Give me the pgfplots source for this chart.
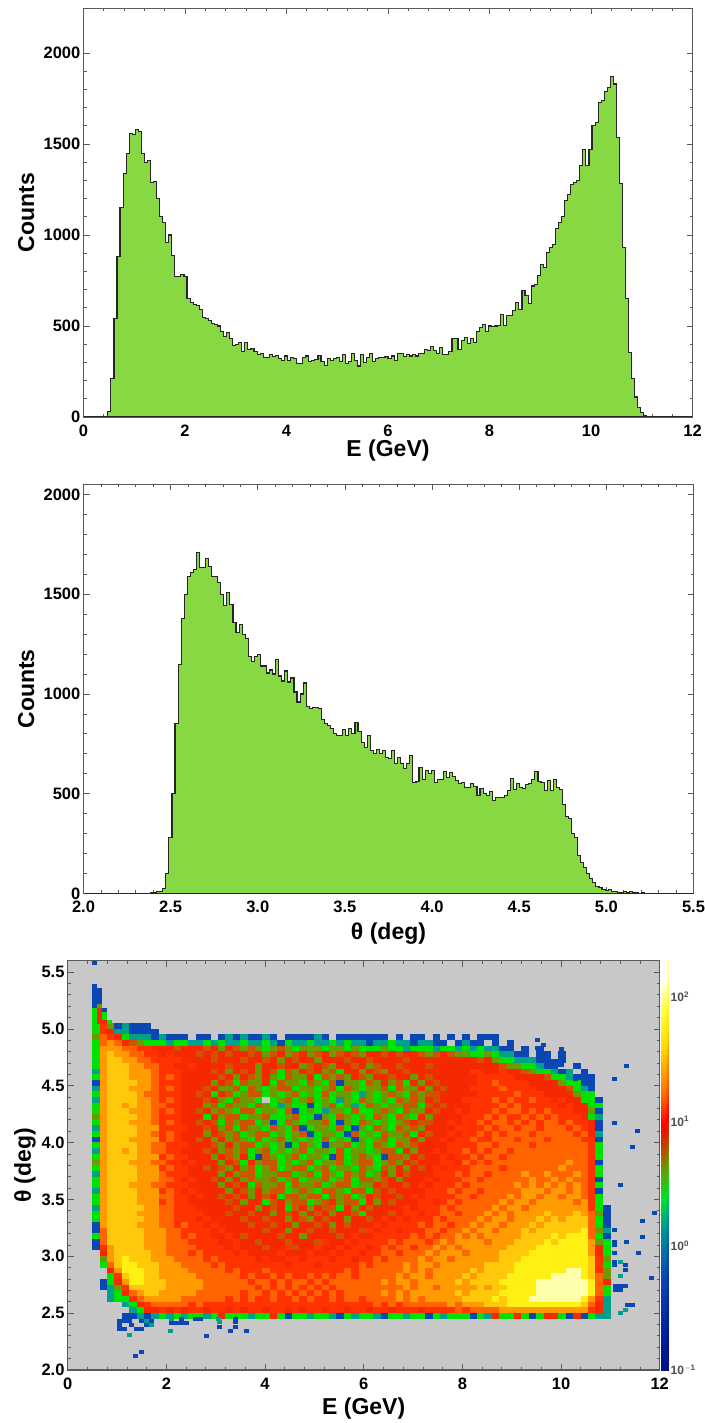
\documentclass[border=0pt]{standalone}
\usepackage{fontspec}
\setmainfont{Liberation Sans}
\usepackage{pgfplots}
\usepackage{pgfplotstable}
\pgfplotsset{compat=1.18}
\definecolor{histgreen}{RGB}{136,216,68}
\definecolor{framegray}{RGB}{90,90,90}
\newcommand{\tickfont}{\fontsize{16.5}{17}\selectfont\bfseries}
\newcommand{\labfont}{\fontsize{23}{24}\selectfont\bfseries}
\pgfdeclareplotmark{bigcell}{\pgfpathrectangle{\pgfpoint{-3.85pt}{-3pt}}{\pgfpoint{7.7pt}{6pt}}\pgfusepathqfill}
\pgfdeclareplotmark{smallcell}{\pgfpathrectangle{\pgfpoint{-2.5pt}{-2pt}}{\pgfpoint{5pt}{4pt}}\pgfusepathqfill}
\pgfplotsset{
  hepaxis/.style={
    scale only axis, anchor=south west,
    axis line style={draw=framegray,line width=1.2pt},
    tick style={color=framegray,line width=0.8pt},
    tick align=inside, major tick length=6pt, minor tick length=3pt,
    tick label style={font=\tickfont,inner sep=1pt},
    label style={font=\labfont},
    /pgf/number format/assume math mode=true,
    /pgf/number format/1000 sep={},
    xticklabel style={yshift=-6.5pt},
    yticklabel style={xshift=-2pt},
  },
  colormap={heplevels}{
    rgb255=(200,200,200) rgb255=(10,70,180) rgb255=(0,160,140) rgb255=(0,226,0)
    rgb255=(110,154,0) rgb255=(205,85,0) rgb255=(245,40,0) rgb255=(255,50,0)
    rgb255=(255,100,0) rgb255=(255,155,0) rgb255=(255,200,10) rgb255=(255,240,20) rgb255=(255,255,170)
  },
  colormap={hepbar}{
    rgb255=(0,0,100) rgb255=(0,30,160) rgb255=(10,70,180) rgb255=(0,150,150)
    rgb255=(0,226,40) rgb255=(100,160,0) rgb255=(200,60,0) rgb255=(255,0,0)
    rgb255=(255,110,0) rgb255=(255,220,0) rgb255=(255,255,60) rgb255=(255,255,255)
  },
}
\pgfplotstableread[header=false]{
3 7 4 1 2 1 1 1 0 0  0 0 0 0 0 0 0 0 0 0  0 0 0 0 0 0 0 0 0 0  0 0 0 0 0 0 0 0 0 0  0 0 0 0 0 0 0 0 0 0  0 0 0 0 0 0 0 0 0 0  0 0 0 0 0 0 0 0 0 0
3 7 6 2 2 1 1 1 1 0  0 0 0 0 0 0 0 0 0 0  0 0 0 0 0 0 0 0 0 0  0 0 0 0 0 0 0 0 0 0  0 0 0 0 0 0 0 0 0 0  0 0 0 0 0 0 0 0 0 0  0 0 0 0 0 0 0 0 0 0
4 8 7 6 3 2 2 2 1 2  1 1 1 0 1 1 0 1 2 1  2 1 1 2 1 0 1 1 1 1  2 1 0 1 1 1 1 1 1 1  0 1 0 1 1 0 1 0 1 0  1 0 1 1 1 0 0 0 0 0  0 0 0 0 0 0 0 0 0 0
3 8 9 8 6 5 4 3 3 3  2 3 3 2 2 3 2 3 2 2  3 2 2 3 2 1 3 2 2 3  2 2 3 2 3 2 2 1 2 2  3 2 2 1 2 2 1 1 0 1  2 1 1 0 1 0 1 0 0 0  0 0 0 0 0 0 0 0 0 0
3 9 9 9 8 8 7 7 6 6  6 5 6 6 6 5 6 4 6 5  4 5 4 3 4 5 4 3 4 4  4 3 4 4 3 4 3 3 3 4  3 3 2 3 3 3 2 3 3 2  3 2 3 2 2 1 1 0 1 0  1 0 0 0 0 0 0 0 0 0
3 9 10 9 9 8 8 7 7 6  7 6 6 6 5 6 5 6 5 6  6 5 6 4 5 6 4 5 6 4  5 6 4 5 6 5 4 6 6 5  6 5 6 6 5 4 5 6 5 4  4 3 3 4 3 2 2 1 1 0  1 1 0 1 0 0 0 0 0 0
3 9 10 10 9 9 8 8 7 7  7 7 6 6 6 6 5 6 6 6  5 6 6 5 6 4 6 5 6 6  4 6 6 6 5 6 6 5 6 6  6 6 5 6 6 6 6 6 6 6  6 6 5 6 4 3 3 2 2 2  1 1 0 1 0 0 0 0 0 0
3 9 10 10 10 9 9 8 8 7  7 6 6 7 6 6 6 6 5 6  6 6 4 6 6 5 6 6 4 5  6 5 4 6 6 5 6 4 5 6  6 5 6 6 6 5 6 6 6 6  6 6 6 6 6 5 4 4 3 3  2 1 1 0 0 1 0 0 0 0
2 9 10 10 10 9 9 9 8 7  7 7 6 6 6 6 5 6 4 6  5 6 4 6 5 3 5 4 6 5  6 4 5 3 6 6 4 6 5 4  6 6 5 6 6 6 6 6 6 6  6 7 7 6 6 7 6 6 5 4  3 3 2 1 2 0 1 0 0 0
3 9 10 10 10 9 9 9 8 7  8 7 6 6 6 6 6 5 6 4  6 5 4 6 4 3 5 4 4 6  3 5 4 5 4 6 5 4 6 6  5 6 6 4 6 5 6 6 6 6  6 6 7 7 7 7 7 6 6 6  6 5 3 3 2 1 1 1 0 0
1 9 10 10 10 10 9 9 8 7  7 7 6 6 6 6 4 6 5 3  5 4 4 6 3 5 4 4 3 5  4 3 5 1 4 4 3 5 4 6  4 5 3 6 4 6 5 6 6 6  6 6 7 7 8 7 7 7 7 6  6 6 6 4 3 3 1 1 0 0
2 9 10 10 10 9 9 9 8 7  8 7 6 6 6 5 6 4 4 5  3 5 4 3 4 5 5 3 4 4  3 4 5 3 5 4 3 4 4 5  3 5 4 4 6 4 6 5 6 6  6 7 7 7 7 8 7 7 7 7  6 6 6 6 5 3 2 1 0 0
3 9 10 10 10 10 9 8 8 7  7 7 6 6 5 6 3 6 5 3  4 5 5 3 4 3 4 5 3 4  3 5 3 4 4 3 2 4 3 4  5 4 3 5 4 5 5 6 6 6  6 6 7 7 7 7 7 8 7 7  7 6 6 6 6 4 3 3 0 0
2 9 10 10 10 10 9 9 8 7  8 7 6 6 6 5 6 4 3 5  4 4 3 0 3 4 5 3 4 5  3 4 3 2 4 3 5 4 3 4  3 5 4 5 4 6 5 6 6 6  7 7 7 7 8 7 8 7 7 8  7 7 6 7 6 6 3 3 1 0
3 9 10 10 9 10 9 9 8 8  7 7 6 6 6 4 5 3 5 4  4 3 5 4 3 2 4 3 3 1  3 4 5 3 4 2 3 5 4 3  4 4 5 5 3 5 6 5 6 6  6 7 7 7 7 8 7 8 7 7  7 7 7 6 7 6 6 3 3 0
3 9 10 10 10 9 9 9 8 7  8 7 6 6 5 6 4 5 4 3  5 5 3 4 4 3 5 1 3 4  3 2 4 4 3 5 3 3 4 5  4 3 5 4 4 6 5 6 6 7  6 7 7 7 8 7 8 8 7 8  7 8 7 7 7 6 6 4 1 0
4 9 10 10 10 10 9 9 8 7  7 7 6 6 6 3 6 4 5 5  3 4 4 5 3 3 4 5 3 3  1 4 3 5 4 3 4 3 5 4  3 5 4 3 6 4 6 6 6 6  7 7 7 8 7 8 7 7 8 7  8 7 8 7 7 7 6 3 2 0
3 9 10 10 10 9 9 9 8 7  8 7 6 6 5 6 5 3 5 4  5 5 3 4 1 3 5 4 3 4  4 5 3 1 4 3 5 4 3 4  3 4 5 6 5 5 6 6 7 6  7 7 8 7 8 8 7 8 7 8  7 8 8 7 8 7 7 6 1 0
2 9 10 10 10 10 9 9 9 7  7 7 7 6 6 5 6 4 5 3  5 4 4 3 5 4 3 5 1 3  4 4 3 5 3 1 4 3 5 4  3 5 4 5 4 6 6 6 6 7  7 7 7 8 7 8 8 7 8 8  7 8 8 8 7 8 7 6 1 0
3 9 10 10 10 10 9 9 8 7  8 7 6 6 6 4 6 5 4 5  3 4 5 5 3 4 3 4 5 1  3 4 4 3 1 5 3 4 3 5  4 4 5 3 6 5 6 6 7 6  7 7 8 7 8 7 8 8 8 7  8 8 8 8 8 7 8 6 2 0
1 9 10 10 10 9 9 9 9 7  8 7 6 6 5 6 4 6 4 5  4 3 5 3 4 5 3 4 3 4  3 5 3 4 3 1 4 3 4 5  3 4 4 6 4 6 6 7 6 7  7 8 7 7 8 8 8 7 8 8  8 7 8 8 8 8 7 7 1 0
3 9 10 10 10 10 9 9 8 8  7 7 7 6 6 6 5 4 6 4  5 5 3 4 3 4 1 3 5 4  3 1 4 4 5 3 4 3 5 4  3 5 4 5 6 6 6 6 7 7  7 7 8 8 7 8 8 8 8 7  8 8 8 8 8 8 8 7 3 0
2 9 10 10 9 10 9 9 8 8  7 7 6 6 6 5 6 4 5 4  5 3 4 5 3 4 3 4 5 3  4 4 3 5 3 4 4 3 4 5  5 3 6 4 6 6 7 6 7 7  8 7 8 7 8 8 7 8 8 8  8 8 8 8 8 8 8 7 3 0
3 9 10 10 10 10 9 9 9 7  8 7 7 6 6 6 4 6 5 4  6 3 1 5 4 3 4 5 3 4  4 3 1 5 3 4 5 4 3 1  5 5 4 6 5 6 6 7 6 7  7 8 7 8 8 7 8 8 8 8  8 8 8 8 8 8 8 7 3 0
4 9 10 10 10 9 9 9 8 8  7 7 6 7 6 6 6 4 6 5  3 6 4 5 5 3 4 3 4 5  3 4 4 5 3 4 5 5 3 4  5 4 6 5 6 6 6 7 7 6  8 7 8 7 8 8 8 8 8 8  8 8 8 8 9 8 8 7 1 0
3 9 10 10 10 10 9 9 9 7  8 7 7 6 6 5 6 5 4 6  4 5 3 4 5 3 4 5 5 3  4 5 3 4 4 3 5 4 3 5  4 6 4 6 5 6 7 6 7 7  7 8 8 8 8 7 8 8 8 8  8 8 8 9 8 8 8 7 3 0
2 9 10 10 10 10 9 9 9 8  7 7 7 6 6 6 6 4 6 4  5 5 3 4 4 5 5 3 4 5  3 5 4 3 5 4 5 3 4 6  4 6 5 6 6 6 7 7 7 8  7 8 8 7 8 8 8 8 9 8  8 9 8 8 8 9 8 7 3 0
3 9 10 10 10 10 9 9 9 8  8 7 6 7 6 6 5 6 4 6  4 5 4 4 5 3 4 5 3 4  4 5 3 4 5 3 5 5 4 5  6 4 6 6 6 7 6 7 7 7  8 8 7 8 8 8 8 8 8 9  8 8 9 8 9 8 8 7 1 0
3 9 10 10 10 9 9 9 8 8  7 7 7 6 6 6 6 4 6 5  6 3 5 4 4 5 3 5 4 4  5 3 4 5 5 3 4 4 6 5  6 6 5 6 7 6 7 7 7 8  7 8 8 8 8 8 8 9 8 9  8 9 8 9 8 9 8 7 3 0
2 9 10 10 10 10 9 9 9 7  8 7 6 7 6 6 6 6 4 6  5 4 6 4 5 5 3 4 5 4  3 5 5 4 3 5 5 3 5 6  5 6 6 6 6 7 7 7 8 7  8 8 7 8 8 8 8 8 9 9  9 8 9 9 8 9 8 7 1 0
3 9 10 10 10 10 9 9 9 8  8 7 7 6 7 6 6 5 6 5  6 4 6 5 6 3 5 5 4 5  5 3 5 4 5 3 4 6 5 6  6 5 6 7 6 7 7 7 7 8  8 7 8 8 8 8 9 8 9 9  8 9 9 8 9 9 8 7 3 0
3 9 10 10 10 10 9 9 9 7  8 7 7 6 6 6 6 6 5 6  4 6 6 3 5 6 4 5 5 3  4 5 6 4 5 5 3 6 4 6  5 6 6 6 7 7 6 7 8 7  8 8 8 8 8 9 8 9 9 8  9 9 9 9 9 8 9 7 3 0
2 9 10 10 10 10 10 9 9 8  8 7 7 7 6 6 6 6 6 5  6 6 4 6 5 6 3 5 6 4  6 5 5 3 6 4 6 5 6 6  6 6 7 6 7 7 7 8 7 8  8 8 8 8 9 8 9 9 8 9  9 9 9 9 9 9 9 7 3 1
3 9 10 10 10 10 9 9 9 8  8 7 7 7 7 6 6 6 5 6  6 5 6 6 4 6 5 6 4 6  5 6 4 6 6 5 3 6 6 6  5 6 7 7 6 7 7 8 8 7  8 8 8 9 8 9 8 9 9 9  9 10 9 9 9 10 9 8 4 1
3 9 10 10 10 10 10 9 9 8  8 7 7 7 6 7 6 6 6 6  5 6 6 5 6 6 4 6 5 4  6 5 6 6 4 6 6 5 6 7  6 7 6 7 7 7 8 7 8 8  8 8 9 8 9 9 8 9 9 9  10 9 10 9 10 10 10 8 3 1
1 9 10 10 10 10 9 9 9 8  8 7 8 7 7 6 7 6 6 6  6 5 6 6 5 6 6 4 6 6  5 6 4 6 5 6 6 6 7 6  7 7 7 7 8 7 8 8 7 8  8 9 8 9 9 8 9 9 9 10  9 10 10 10 10 10 10 8 3 1
1 8 10 10 10 10 10 9 9 9  8 8 7 7 7 7 6 7 6 6  6 6 6 5 6 6 4 6 6 5  6 6 5 6 6 6 5 7 6 7  7 6 7 7 7 8 8 7 8 8  9 8 9 9 8 9 9 9 10 9  10 10 10 10 10 10 11 8 4 2
3 8 10 10 10 10 10 9 9 9  8 8 7 8 7 7 6 6 7 6  5 6 6 6 6 5 6 6 4 6  6 6 6 5 6 7 6 6 7 7  7 7 7 8 7 8 7 8 8 9  8 9 8 9 9 9 9 9 10 10  10 10 11 10 11 11 11 8 3 1
1 8 10 10 10 10 10 9 9 9  8 8 8 7 7 7 7 6 6 7  6 6 5 6 6 6 5 6 6 6  5 7 6 6 7 6 7 7 7 7  8 7 8 8 8 7 8 9 8 9  9 9 9 8 9 9 9 10 10 10  10 11 10 11 11 11 11 9 4 3
1 7 9 10 10 10 10 9 9 9  8 8 8 8 7 7 7 7 6 7  6 6 6 5 6 6 7 5 6 6  7 6 6 7 6 7 7 6 7 8  7 8 8 7 8 8 9 8 9 8  9 9 9 9 9 9 10 10 10 10  11 11 11 11 11 11 11 9 6 3
0 6 9 10 10 10 10 10 9 9  8 8 8 7 8 7 7 7 7 6  7 6 6 6 6 7 6 6 6 7  6 6 7 6 7 7 6 7 7 8  8 7 8 8 8 9 8 9 9 9  8 9 9 9 9 10 10 10 10 11  11 11 11 11 11 11 11 9 6 3
0 4 9 10 11 10 10 10 9 9  9 8 8 8 8 7 8 7 7 7  7 7 6 7 6 6 7 7 6 7  7 7 6 7 7 6 7 7 8 7  8 8 8 8 9 8 9 9 8 9  9 9 9 9 9 10 10 10 11 11  11 11 11 11 11 11 11 10 7 4
0 3 8 10 11 11 10 10 10 9  9 9 8 8 8 8 7 8 7 7  7 7 7 7 7 7 6 7 7 7  6 7 7 7 7 7 8 7 8 8  8 8 9 8 9 9 8 9 9 9  9 9 9 10 10 10 10 11 11 11  11 11 11 11 11 11 11 10 7 3
0 0 6 9 11 11 11 10 10 9  9 9 9 8 8 8 8 8 7 8  7 7 7 8 7 7 7 7 7 7  7 7 7 7 8 7 8 8 8 8  8 8 9 8 9 8 9 9 9 9  9 10 9 10 10 10 10 11 11 11  11 11 11 11 12 12 11 10 7 4
0 0 3 7 10 11 11 10 10 9  9 9 9 9 8 8 8 8 8 8  7 8 7 7 8 7 8 7 7 8  7 8 7 8 8 7 8 8 8 8  8 9 8 9 9 8 9 9 9 9  10 9 10 10 10 10 11 11 11 11  11 11 12 12 12 12 11 10 8 4
0 1 3 6 9 11 11 10 10 10  9 9 9 9 9 8 8 8 8 8  8 7 8 8 7 8 7 8 8 7  8 7 8 8 8 8 8 8 8 9  8 9 9 8 9 9 9 9 9 10  9 10 10 10 10 11 11 11 11 11  12 12 12 12 12 12 12 11 8 6
0 1 2 4 7 10 10 10 10 10  9 9 9 9 9 8 8 8 8 8  8 8 7 8 7 8 7 8 7 8  7 8 7 8 8 8 8 8 8 8  8 8 9 8 9 9 8 9 9 9  9 9 10 9 10 10 11 11 11 11  12 12 12 12 12 12 12 11 8 3
0 0 2 3 6 8 9 10 10 9  9 9 9 9 8 8 8 8 8 8  7 8 8 7 8 7 8 7 8 7  8 7 8 7 8 8 8 8 8 9  8 9 8 9 9 9 9 9 9 10  9 10 10 10 10 11 11 11 11 11  12 12 12 12 12 12 12 11 8 3
0 0 2 3 3 7 8 9 9 9  9 9 8 8 8 8 8 8 7 8  7 8 7 7 8 7 7 8 7 8  7 7 8 7 8 8 7 8 8 8  8 9 8 9 8 9 9 9 9 9  10 10 10 10 11 10 11 11 11 12  12 12 12 12 12 12 11 9 7 2
0 0 0 0 2 3 6 7 8 8  8 8 8 7 8 7 7 7 7 7  7 7 7 7 7 7 7 7 7 7  7 7 7 7 7 7 7 7 8 7  8 7 8 8 8 8 8 8 9 8  9 9 9 10 10 10 11 11 11 11  11 11 11 11 11 11 10 8 6 2
0 0 0 0 0 2 3 6 6 7  6 7 6 7 7 6 7 7 6 7  6 7 7 6 7 7 6 7 6 7  7 6 7 7 6 7 7 6 7 7  6 7 7 7 6 7 7 7 7 8  7 8 8 8 8 9 9 9 9 9  9 9 9 9 9 9 9 7 6 2
0 0 0 0 1 1 2 1 2 3  2 3 2 3 3 2 3 6 3 3  3 2 3 3 6 3 1 3 3 2  3 3 2 1 3 2 3 3 2 1  3 3 2 3 3 1 3 2 3 3  3 1 3 2 6 3 3 6 3 1  3 6 6 3 1 6 1 3 2 2
}\thetaE
\begin{document}
\begin{tikzpicture}[x=1pt,y=1pt]
\path[use as bounding box] (0,0) rectangle (704,1423);
% ---------- top
\begin{axis}[hepaxis,at={(83.5pt,1006pt)},width=609pt,height=408.5pt,
  xmin=0,xmax=12,ymin=0,ymax=2245,xtick={0,2,...,12},ytick={0,500,...,2000},
  minor x tick num=4,minor y tick num=4,
  xlabel={E (GeV)},ylabel={Counts},
  xlabel style={at={(axis description cs:0.5,-0.083)},anchor=center},
  ylabel style={at={(axis description cs:-0.094,0.5)},anchor=center},
]
\addplot[const plot,fill=histgreen,draw=black!85,line width=1.1pt] table[header=false,x expr=\coordindex*0.06,y index=0]{
0
0
0
0
0
0
0
0
30
210
540
880
1150
1340
1450
1560
1550
1580
1570
1450
1400
1410
1290
1295
1200
1100
1070
960
1000
885
770
770
785
770
650
630
620
615
590
545
540
530
515
510
500
470
440
465
430
395
400
410
360
410
370
375
360
345
350
325
325
345
330
340
320
310
335
310
325
320
295
295
325
335
305
310
315
340
305
285
320
310
320
325
305
345
295
305
350
310
280
345
300
325
350
305
320
325
325
330
320
335
310
350
350
330
345
335
345
335
350
350
370
365
385
365
350
380
345
345
360
430
430
370
420
435
405
430
410
470
490
510
470
500
495
500
505
565
505
560
560
585
630
590
695
670
625
720
730
780
840
820
905
930
950
1035
1070
1100
1190
1225
1280
1290
1300
1380
1470
1380
1470
1600
1620
1730
1740
1790
1810
1870
1830
1535
1285
930
650
355
210
110
50
25
10
4
3
3
2
3
2
1
2
1
1
1
1
1
0
0
0
0
0
0
} \closedcycle;
\end{axis}
% ---------- middle
\begin{axis}[hepaxis,at={(83.5pt,529.5pt)},width=610pt,height=409pt,
  xmin=2,xmax=5.5,ymin=0,ymax=2050,xtick={2,2.5,...,5.5},ytick={0,500,...,2000},
  minor x tick num=4,minor y tick num=4,
  xticklabel style={/pgf/number format/fixed,/pgf/number format/fixed zerofill,/pgf/number format/precision=1},
  xlabel={θ (deg)},ylabel={Counts},
  xlabel style={at={(axis description cs:0.5,-0.097)},anchor=center},
  ylabel style={at={(axis description cs:-0.094,0.5)},anchor=center},
]
\addplot[const plot,fill=histgreen,draw=black!85,line width=1.1pt] table[header=false,x expr=2+\coordindex*0.0175,y index=0]{
0
1
0
1
0
0
1
0
0
0
1
0
0
0
0
1
0
0
1
2
1
2
3
5
8
10
25
100
280
500
850
1150
1380
1500
1590
1610
1625
1710
1635
1635
1680
1640
1590
1590
1560
1500
1445
1510
1450
1360
1310
1350
1300
1280
1190
1165
1190
1200
1140
1140
1105
1120
1100
1175
1090
1065
1115
1060
1080
1010
960
1000
1055
935
925
930
930
925
870
850
840
825
800
790
790
820
790
825
800
855
810
755
730
790
715
700
720
700
715
680
675
715
650
680
650
625
650
690
555
560
630
570
615
600
615
555
570
570
610
580
605
585
565
550
555
530
530
550
535
490
525
500
490
510
465
480
480
480
490
515
575
520
550
530
525
545
550
570
610
560
555
515
565
515
570
530
520
445
385
375
300
280
190
155
130
100
75
55
35
28
20
15
18
12
8
6
5
8
5
8
5
3
2
3
2
1
1
1
0
1
0
1
0
0
0
0
0
0
0
0
0
0
0
0
} \closedcycle;
\end{axis}
% ---------- 2D
\begin{axis}[hepaxis,at={(67.7pt,53pt)},width=592pt,height=409.3pt,
  axis background/.style={fill={rgb,255:red,200;green,200;blue,200}},
  xmin=0,xmax=12,ymin=2,ymax=5.6,xtick={0,2,...,12},ytick={2,2.5,...,5.5},
  minor x tick num=4,minor y tick num=4,
  yticklabel style={/pgf/number format/fixed,/pgf/number format/fixed zerofill,/pgf/number format/precision=1},
  xlabel={E (GeV)},ylabel={θ (deg)},
  xlabel style={at={(axis description cs:0.5,-0.095)},anchor=center},
  ylabel style={at={(axis description cs:-0.072,0.5)},anchor=center},
  colormap name=heplevels,point meta min=0,point meta max=12,
  axis on top,
]
\pgfplotsinvokeforeach{0,...,69}{
  \addplot[scatter,only marks,mark=bigcell,scatter src=explicit]
    table[x expr={0.575+0.15*#1},y expr={5.025-0.05*\coordindex},meta index=#1]{\thetaE};
}
\addplot[scatter,only marks,mark=smallcell,scatter src=explicit] table[x=E,y=T,meta=c]{
E T c
0.55 5.58 1
0.55 5.38 1
0.55 5.345 1
0.55 5.31 1
0.55 5.275 1
0.65 5.345 1
0.65 5.31 1
0.65 5.275 1
0.55 5.24 1
0.65 5.24 1
0.55 5.205 1
0.65 5.205 4
0.55 5.17 3
0.65 5.17 6
0.55 5.135 3
0.65 5.135 6
0.75 5.17 1
0.75 5.135 3
0.55 5.10 3
0.65 5.10 6
0.75 5.10 3
0.55 5.065 3
0.65 5.065 6
0.75 5.065 6
0.85 5.065 3
11.33 4.67 1
11.08 4.56 1
11.08 4.17 1
11.55 4.10 1
11.45 3.96 1
11.2 3.63 1
11.9 3.38 1
11.65 3.31 1
11.65 3.17 1
11.33 3.13 1
11.08 3.23 1
11.58 3.03 1
11.83 2.81 1
11.08 3.13 1
11.08 3.10 1
11.08 3.03 1
11.08 2.95 1
11.08 2.92 1
11.2 2.95 2
11.3 2.92 1
11.3 2.88 1
11.2 2.83 2
11.1 2.74 1
11.2 2.74 1
11.3 2.74 1
11.1 2.70 1
11.2 2.70 1
11.35 2.57 1
11.45 2.57 1
11.3 2.53 2
11.2 2.5 2
9.52 4.9 1
9.65 4.86 1
9.52 4.83 1
10 4.82 1
10 4.78 1
9.75 4.72 1
9.85 4.72 1
9.95 4.72 1
10 4.68 1
9.9 4.68 1
10.3 4.56 1
10.5 4.57 1
10.5 4.53 1
1.05 2.43 1
1.05 2.395 1
1.05 2.36 1
1.15 2.36 1
1.15 2.43 1
1.25 2.31 2
1.25 2.43 1
1.3 2.395 1
1.4 2.36 1
1.5 2.36 1
1.6 2.395 1
1.7 2.43 1
1.5 2.43 1
1.6 2.43 2
1.7 2.395 2
1.37 2.12 1
1.49 2.16 1
2.08 2.34 2
2.1 2.41 1
2.2 2.41 1
2.3 2.41 1
2.4 2.41 1
2.1 2.45 2
2.3 2.45 1
2.6 2.45 1
2.7 2.45 1
2.82 2.30 1
3.3 2.34 1
3.63 2.34 1
3.07 2.38 1
3.4 2.38 1
3.07 2.42 2
3.4 2.42 1
3.05 2.45 2
3.4 2.45 1
}; 
\end{axis}
% ---------- colour bar
\begin{axis}[hepaxis,at={(661pt,53pt)},width=7.5pt,height=409.3pt,
  axis line style={draw=none},
  xmin=0,xmax=1,ymode=log,ymin=0.1,ymax=195,xtick=\empty,
  ytick={0.1,1,10,100},yticklabels={$\mathbf{10^{-1}}$,$\mathbf{10^{0}}$,$\mathbf{10^{1}}$,$\mathbf{10^{2}}$},
  yminorticks=false,ytick pos=right,yticklabel pos=right,major tick length=0pt,
  yticklabel style={font=\fontsize{12}{12}\selectfont,text=black!70,xshift=3pt},
  colormap name=hepbar,point meta min=0,point meta max=11,
]
\addplot[matrix plot*,shader=interp,mesh/cols=2,point meta=explicit] table[meta=c]{
x y c
0 0.1 0
1 0.1 0
0 0.3 1
1 0.3 1
0 1 2
1 1 2
0 1.8 3
1 1.8 3
0 3 4
1 3 4
0 5 5
1 5 5
0 8 6
1 8 6
0 11 7
1 11 7
0 25 8
1 25 8
0 60 9
1 60 9
0 100 10
1 100 10
0 195 11
1 195 11
};
\end{axis}
\end{tikzpicture}
\end{document}
